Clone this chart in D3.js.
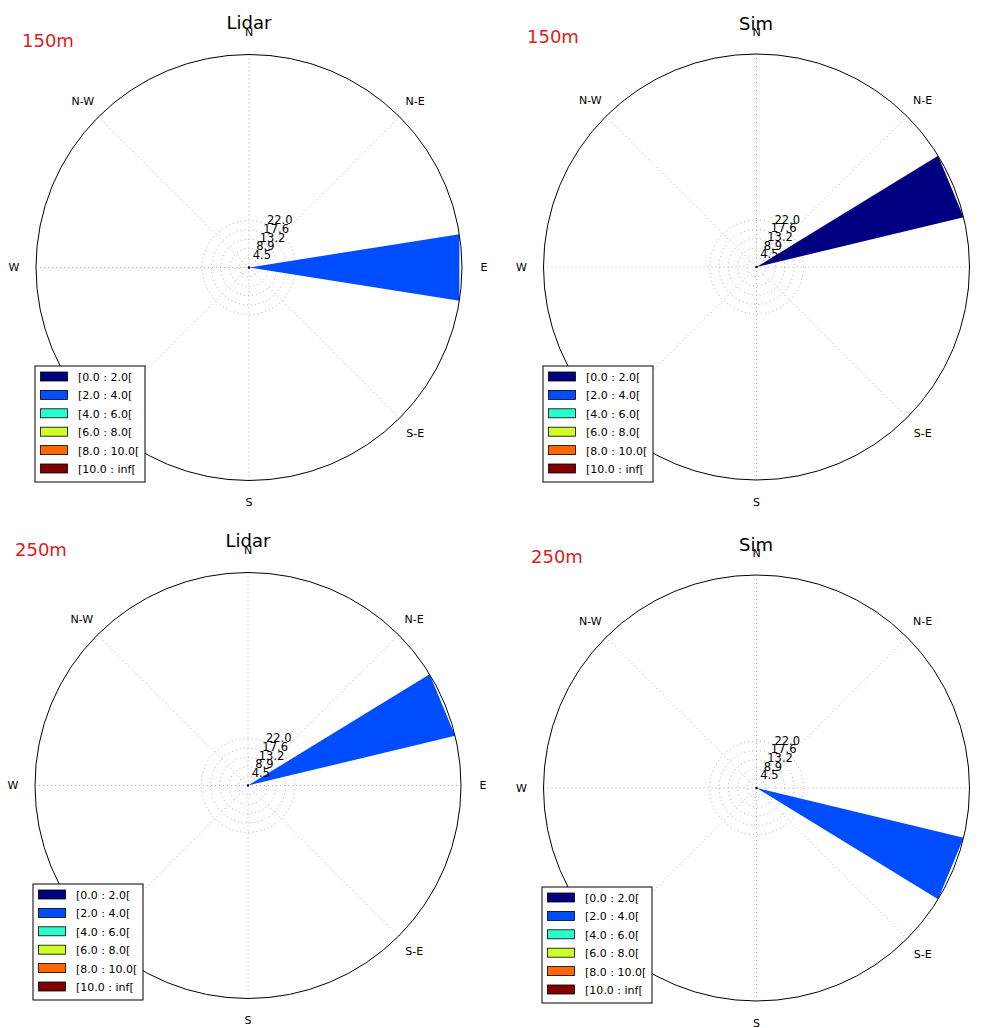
<!DOCTYPE html>
<html><head><meta charset="utf-8">
<script src="https://cdn.jsdelivr.net/npm/d3@7"></script>
<style>body{margin:0;background:#fff}svg{display:block}text{font-family:"DejaVu Sans",sans-serif}</style>
</head><body>
<svg id="c" width="988" height="1028"></svg>
<script>
// ---- data ----
const panelTitles = ["Lidar", "Sim", "Lidar", "Sim"];
const panelHeights = ["150m", "150m", "250m", "250m"];
const compassLabels = ["N", "N-E", "E", "S-E", "S", "S-W", "W", "N-W"];
const compassAngles = [0, 45, 90, 135, 180, 225, 270, 315];
const radialTicks = [4.5, 8.9, 13.2, 17.6, 22.0];
const speedBins = ["[0.0 : 2.0[", "[2.0 : 4.0[", "[4.0 : 6.0[", "[6.0 : 8.0[", "[8.0 : 10.0[", "[10.0 : inf["];
const binColors = ["#000080", "#004cff", "#29ffce", "#ceff29", "#ff6800", "#800000"];
// one bar per panel: direction (deg), speed-bin index, frequency (%)
const barDirection = [90, 67.5, 67.5, 112.5];
const barBin = [1, 0, 1, 1];
const barFreq = [100, 100, 100, 100];
const sectorWidth = 18; // degrees (22.5 * 0.8)

// ---- layout ----
const W = 988, H = 1028;
const centers = [[249, 267.5], [756.5, 267], [248, 785.5], [756.5, 788]];
const R = 213;
const titlePos = [[249, 29], [756, 30], [248, 547], [756, 551]];
const heightPos = [[22, 47], [527, 43], [15, 556], [531, 563]];
const legendPos = [[35, 366], [543, 366], [33, 884], [542, 887]];

const svg = d3.select("#c");
const r = d3.scaleLinear().domain([0, 100]).range([0, R]);
const ang = d3.scaleLinear().domain([0, 360]).range([0, 2 * Math.PI]);
const pt = (deg, v) => [Math.sin(ang(deg)) * r(v), -Math.cos(ang(deg)) * r(v)];

panelTitles.forEach((t, i) => {
  const [cx, cy] = centers[i];
  const g = svg.append("g").attr("transform", `translate(${cx},${cy})`);
  compassAngles.forEach(a => {
    const [x, y] = pt(a, 100);
    g.append("line").attr("x1", 0).attr("y1", 0).attr("x2", x).attr("y2", y)
      .attr("stroke", "#999").attr("stroke-width", 0.8).attr("stroke-dasharray", "1,3");
  });
  radialTicks.forEach(v => {
    g.append("circle").attr("r", r(v)).attr("fill", "none")
      .attr("stroke", "#999").attr("stroke-width", 0.8).attr("stroke-dasharray", "1,3");
  });
  const d = barDirection[i], f = barFreq[i];
  const p1 = pt(d - sectorWidth / 2, f), p2 = pt(d + sectorWidth / 2, f);
  g.append("path").attr("d", `M0,0L${p1[0]},${p1[1]}L${p2[0]},${p2[1]}Z`)
    .attr("fill", binColors[barBin[i]]);
  g.append("circle").attr("r", R).attr("fill", "none").attr("stroke", "#000").attr("stroke-width", 1);
  g.append("circle").attr("r", 1.2).attr("fill", "#000");
  radialTicks.forEach(v => {
    const [x, y] = pt(22.5, v);
    g.append("text").attr("x", x).attr("y", y).attr("font-size", 11.5).attr("fill", "#000")
      .text(v.toFixed(1));
  });
  compassLabels.forEach((lab, k) => {
    const x = Math.sin(ang(compassAngles[k])) * (R + 22), y = -Math.cos(ang(compassAngles[k])) * (R + 22);
    if (cx + x + 6 > W) return; // lies outside the figure, as in the original
    g.append("text").attr("x", x).attr("y", y).attr("text-anchor", "middle")
      .attr("dominant-baseline", "central").attr("font-size", 11).text(lab);
  });
  svg.append("text").attr("x", titlePos[i][0]).attr("y", titlePos[i][1]).attr("text-anchor", "middle")
    .attr("font-size", 18).text(t);
  svg.append("text").attr("x", heightPos[i][0]).attr("y", heightPos[i][1])
    .attr("font-size", 18).attr("fill", "#d81e1e").text(panelHeights[i]);
  const [lx, ly] = legendPos[i];
  const lg = svg.append("g").attr("transform", `translate(${lx},${ly})`);
  lg.append("rect").attr("width", 110).attr("height", 116).attr("fill", "#fff").attr("stroke", "#000").attr("stroke-width", 1);
  speedBins.forEach((lab, k) => {
    lg.append("rect").attr("x", 5.5).attr("y", 6 + k * 18.4).attr("width", 27).attr("height", 9)
      .attr("fill", binColors[k]).attr("stroke", "#000").attr("stroke-width", 0.8);
    lg.append("text").attr("x", 43).attr("y", 15 + k * 18.4).attr("font-size", 11).text(lab);
  });
});
</script>
</body></html>
